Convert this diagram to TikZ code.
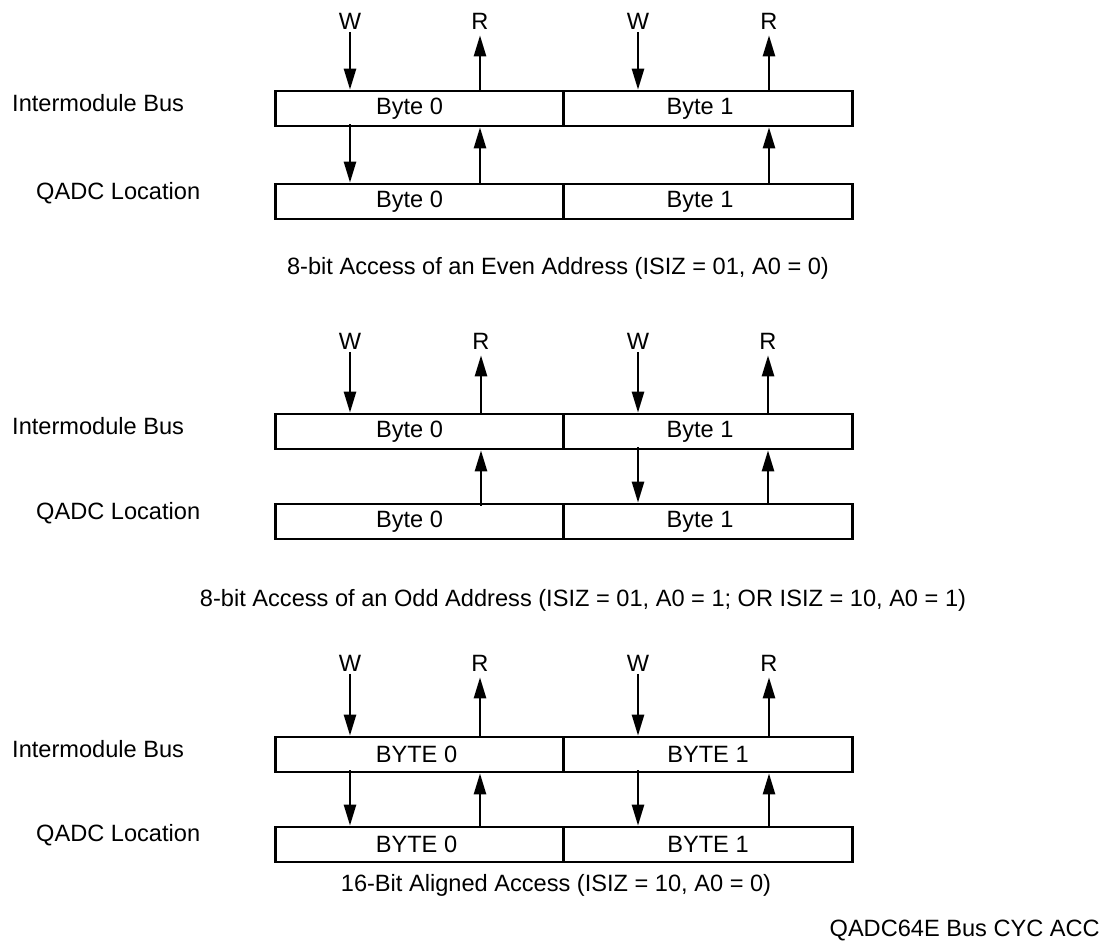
\documentclass[tikz,border=0pt]{standalone}
\usepackage{fontspec}
\setmainfont{Liberation Sans}
\usetikzlibrary{arrows.meta}
\begin{document}
\begin{tikzpicture}[x=1pt,y=-1pt,
  every node/.style={font=\fontsize{23.6}{28}\selectfont},
  cell/.style={draw, line width=2.7pt, minimum width=288.5pt, minimum height=35pt, inner sep=0pt},
  lbl/.style={inner sep=0pt},
  arr/.style={line width=2.5pt, -{Triangle[length=21pt,width=12pt]}},
]
\useasboundingbox (0,0) rectangle (1103,942);

% ---------- Panel 1 ----------
\node[cell] (b1a) at (419.5,108.5) {Byte 0\hspace*{20pt}};
\node[cell] (b1b) at (708,108.5) {Byte 1\hspace*{16pt}};
\node[cell] (q1a) at (419.5,201.5) {Byte 0\hspace*{20pt}};
\node[cell] (q1b) at (708,201.5) {Byte 1\hspace*{16pt}};
\node[lbl, anchor=west] (ib1) at (12,103) {Intermodule Bus};
\node[lbl, anchor=west] (ql1) at (36,193) {QADC Location};
\node[lbl] (w1a) at (350,21) {W};
\node[lbl] (r1a) at (480,21) {R};
\node[lbl] (w1b) at (638,21) {W};
\node[lbl] (r1b) at (769,21) {R};
\draw[arr] ([yshift=-2.5pt]w1a.south) -- (w1a |- b1a.north);
\draw[arr] (r1a |- b1a.north) -- ([yshift=-6pt]r1a.south);
\draw[arr] ([yshift=-2.5pt]w1b.south) -- (w1b |- b1b.north);
\draw[arr] (r1b |- b1b.north) -- ([yshift=-6pt]r1b.south);
\draw[arr] ([yshift=3pt]w1a |- b1a.south) -- (w1a |- q1a.north);
\draw[arr] (r1a |- q1a.north) -- (r1a |- b1a.south);
\draw[arr] (r1b |- q1b.north) -- (r1b |- b1b.south);
\node (c1) at (558,268) {8-bit Access of an Even Address (ISIZ = 01, A0 = 0)};

% ---------- Panel 2 ----------
\node[cell] (b2a) at (419.5,431.5) {Byte 0\hspace*{20pt}};
\node[cell] (b2b) at (708,431.5) {Byte 1\hspace*{16pt}};
\node[cell] (q2a) at (419.5,521.5) {Byte 0\hspace*{20pt}};
\node[cell] (q2b) at (708,521.5) {Byte 1\hspace*{16pt}};
\node[lbl, anchor=west] (ib2) at (12,426) {Intermodule Bus};
\node[lbl, anchor=west] (ql2) at (36,513) {QADC Location};
\node[lbl] (w2a) at (350,341) {W};
\node[lbl] (r2a) at (481,341) {R};
\node[lbl] (w2b) at (638,341) {W};
\node[lbl] (r2b) at (768,341) {R};
\draw[arr] ([yshift=-2.5pt]w2a.south) -- (w2a |- b2a.north);
\draw[arr] (r2a |- b2a.north) -- ([yshift=-6pt]r2a.south);
\draw[arr] ([yshift=-2.5pt]w2b.south) -- (w2b |- b2b.north);
\draw[arr] (r2b |- b2b.north) -- ([yshift=-6pt]r2b.south);
\draw[arr] ([yshift=-3pt]r2a |- q2a.north) -- (r2a |- b2a.south);
\draw[arr] ([yshift=3pt]w2b |- b2b.south) -- (w2b |- q2b.north);
\draw[arr] (r2b |- q2b.north) -- (r2b |- b2b.south);
\node (c2) at (583,600) {8-bit Access of an Odd Address (ISIZ = 01, A0 = 1; OR ISIZ = 10, A0 = 1)};

% ---------- Panel 3 ----------
\node[cell] (b3a) at (419.5,754.5) {BYTE 0\hspace*{6pt}};
\node[cell] (b3b) at (708,754.5) {BYTE 1};
\node[cell] (q3a) at (419.5,844.5) {BYTE 0\hspace*{6pt}};
\node[cell] (q3b) at (708,844.5) {BYTE 1};
\node[lbl, anchor=west] (ib3) at (12,749) {Intermodule Bus};
\node[lbl, anchor=west] (ql3) at (36,835) {QADC Location};
\node[lbl] (w3a) at (350,663) {W};
\node[lbl] (r3a) at (480,663) {R};
\node[lbl] (w3b) at (638,663) {W};
\node[lbl] (r3b) at (769,663) {R};
\draw[arr] ([yshift=-2.5pt]w3a.south) -- (w3a |- b3a.north);
\draw[arr] (r3a |- b3a.north) -- ([yshift=-6pt]r3a.south);
\draw[arr] ([yshift=-2.5pt]w3b.south) -- (w3b |- b3b.north);
\draw[arr] (r3b |- b3b.north) -- ([yshift=-6pt]r3b.south);
\draw[arr] ([yshift=3pt]w3a |- b3a.south) -- (w3a |- q3a.north);
\draw[arr] (r3a |- q3a.north) -- (r3a |- b3a.south);
\draw[arr] ([yshift=3pt]w3b |- b3b.south) -- (w3b |- q3b.north);
\draw[arr] (r3b |- q3b.north) -- (r3b |- b3b.south);
\node (c3) at (556,885) {16-Bit Aligned Access (ISIZ = 10, A0 = 0)};

\node[anchor=east, inner sep=0pt] (ft) at (1100,930) {QADC64E Bus CYC ACC};
\end{tikzpicture}
\end{document}
